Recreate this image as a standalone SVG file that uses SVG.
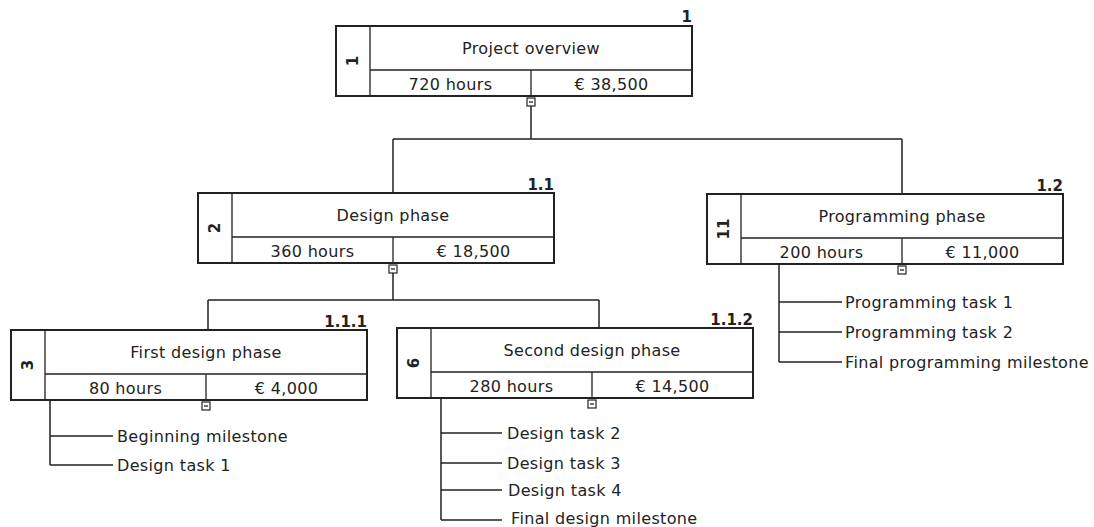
<svg xmlns="http://www.w3.org/2000/svg" width="1094" height="527" viewBox="0 0 1094 527">
<style>
.box{fill:#fff;stroke:#222;stroke-width:2}
.dv{stroke:#222;stroke-width:1.3;fill:none}
.t{font-family:"DejaVu Sans",Verdana,sans-serif;font-size:16px;letter-spacing:0.35px;fill:#222}
.m{text-anchor:middle}
.n{font-family:"DejaVu Sans",Verdana,sans-serif;font-size:15px;font-weight:bold;fill:#222}
.c{stroke:#222;stroke-width:1.5;fill:none}
.cb{fill:#fff;stroke:#222;stroke-width:1.2}
</style>
<rect width="1094" height="527" fill="#fff"/>
<g id="connectors">
<path class="c" d="M531 106V139M393 139H902M393 139V193M902 139V194"/>
<path class="c" d="M393 273V300M208 300H599M208 300V330M599 300V328"/>
<path class="c" d="M50 400V465M50 436H113M50 465H113"/>
<path class="c" d="M441 398V520M441 433H502M441 463H502M441 490H502M441 520H502"/>
<path class="c" d="M779 264V362M779 302H842M779 332H842M779 362H842"/>
</g>
<g id="node-1">
<rect class="box" x="336" y="26" width="356" height="70"/>
<path class="dv" d="M370 26V96M370 70H692M531 70V96"/>
<text class="n" x="692" y="22" text-anchor="end">1</text>
<text class="n m" transform="translate(353,61) rotate(-90)" dominant-baseline="central">1</text>
<text class="t m" x="531" y="54">Project overview</text>
<text class="t m" x="450.5" y="90">720 hours</text>
<text class="t m" x="611.5" y="90">€ 38,500</text>
<rect class="cb" x="527" y="98" width="8" height="8"/><path class="dv" d="M529 102H533"/>
</g>
<g id="node-2">
<rect class="box" x="198" y="193" width="356" height="70"/>
<path class="dv" d="M232 193V263M232 237H554M393 237V263"/>
<text class="n" x="554" y="190" text-anchor="end">1.1</text>
<text class="n m" transform="translate(215,228) rotate(-90)" dominant-baseline="central">2</text>
<text class="t m" x="393" y="221">Design phase</text>
<text class="t m" x="312.5" y="257">360 hours</text>
<text class="t m" x="473.5" y="257">€ 18,500</text>
<rect class="cb" x="389" y="265" width="8" height="8"/><path class="dv" d="M391 269H395"/>
</g>
<g id="node-11">
<rect class="box" x="707" y="194" width="356" height="70"/>
<path class="dv" d="M741 194V264M741 238H1063M902 238V264"/>
<text class="n" x="1063" y="191" text-anchor="end">1.2</text>
<text class="n m" transform="translate(724,229) rotate(-90)" dominant-baseline="central">11</text>
<text class="t m" x="902" y="222">Programming phase</text>
<text class="t m" x="821.5" y="258">200 hours</text>
<text class="t m" x="982.5" y="258">€ 11,000</text>
<rect class="cb" x="898" y="266" width="8" height="8"/><path class="dv" d="M900 270H904"/>
<text class="t" x="845" y="308">Programming task 1</text>
<text class="t" x="845" y="338">Programming task 2</text>
<text class="t" x="845" y="368">Final programming milestone</text>
</g>
<g id="node-3">
<rect class="box" x="11" y="330" width="356" height="70"/>
<path class="dv" d="M45 330V400M45 374H367M206 374V400"/>
<text class="n" x="367" y="327" text-anchor="end">1.1.1</text>
<text class="n m" transform="translate(28,365) rotate(-90)" dominant-baseline="central">3</text>
<text class="t m" x="206" y="358">First design phase</text>
<text class="t m" x="125.5" y="394">80 hours</text>
<text class="t m" x="286.5" y="394">€ 4,000</text>
<rect class="cb" x="202" y="402" width="8" height="8"/><path class="dv" d="M204 406H208"/>
<text class="t" x="117" y="442">Beginning milestone</text>
<text class="t" x="117" y="471">Design task 1</text>
</g>
<g id="node-6">
<rect class="box" x="397" y="328" width="356" height="70"/>
<path class="dv" d="M431 328V398M431 372H753M592 372V398"/>
<text class="n" x="753" y="325" text-anchor="end">1.1.2</text>
<text class="n m" transform="translate(414,363) rotate(-90)" dominant-baseline="central">6</text>
<text class="t m" x="592" y="356">Second design phase</text>
<text class="t m" x="511.5" y="392">280 hours</text>
<text class="t m" x="672.5" y="392">€ 14,500</text>
<rect class="cb" x="588" y="400" width="8" height="8"/><path class="dv" d="M590 404H594"/>
<text class="t" x="507" y="439">Design task 2</text>
<text class="t" x="507" y="469">Design task 3</text>
<text class="t" x="508" y="496">Design task 4</text>
<text class="t" x="511" y="524">Final design milestone</text>
</g>
</svg>
